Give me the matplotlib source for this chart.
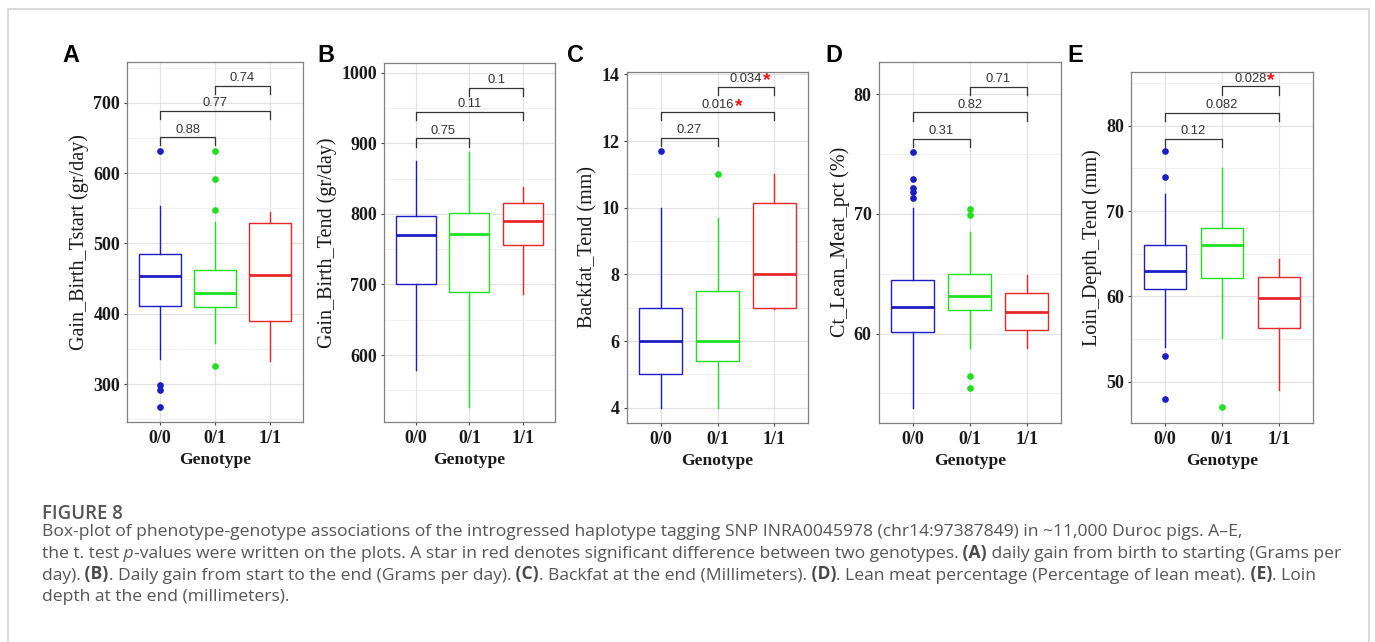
import matplotlib
matplotlib.use("Agg")
import matplotlib.pyplot as plt
from matplotlib.patches import Rectangle
from matplotlib.ticker import FixedLocator

W, H = 1375, 642

genotypes = ["0/0", "0/1", "1/1"]
pairs = [(1, 2), (1, 3), (2, 3)]

# A: Gain_Birth_Tstart
a_low = [336, 359, 333]
a_q1 = [411, 409, 389]
a_med = [453, 429, 455]
a_q3 = [485, 462, 529]
a_high = [553, 531, 544]
a_out = [[632, 299, 292, 268], [631, 592, 548, 326], []]
a_p = ["0.88", "0.77", "0.74"]
a_star = [False, False, False]
a_bracket = [651, 688, 724]

# B: Gain_Birth_Tend
b_low = [579, 527, 687]
b_q1 = [701, 689, 756]
b_med = [770, 771, 790]
b_q3 = [797, 801, 815]
b_high = [875, 888, 838]
b_out = [[], [], []]
b_p = ["0.75", "0.11", "0.1"]
b_star = [False, False, False]
b_bracket = [907, 945, 979]

# C: Backfat_Tend
c_low = [4.0, 4.0, 6.95]
c_q1 = [5.0, 5.4, 7.0]
c_med = [6.0, 6.0, 8.0]
c_q3 = [7.0, 7.5, 10.15]
c_high = [10.0, 9.7, 11.0]
c_out = [[11.7], [11.0], []]
c_p = ["0.27", "0.016", "0.034"]
c_star = [False, True, True]
c_bracket = [12.1, 12.86, 13.63]

# D: Ct_Lean_Meat_pct
d_low = [53.8, 58.8, 58.8]
d_q1 = [60.1, 62.0, 60.3]
d_med = [62.2, 63.15, 61.85]
d_q3 = [64.5, 65.0, 63.4]
d_high = [70.5, 68.5, 64.9]
d_out = [[75.2, 72.9, 72.2, 71.8, 71.3], [70.4, 69.9, 56.5, 55.5], []]
d_p = ["0.31", "0.82", "0.71"]
d_star = [False, False, False]
d_bracket = [76.3, 78.5, 80.6]

# E: Loin_Depth_Tend
e_low = [54.1, 55.1, 49.0]
e_q1 = [60.9, 62.1, 56.25]
e_med = [63.0, 66.0, 59.85]
e_q3 = [66.0, 68.0, 62.3]
e_high = [72.0, 75.0, 64.4]
e_out = [[77.0, 74.0, 53.0, 48.0], [47.0], []]
e_p = ["0.12", "0.082", "0.028"]
e_star = [False, False, True]
e_bracket = [78.5, 81.5, 84.6]

colors = ["#1c1cc4", "#1fe01f", "#e8262a"]
serif = "Liberation Serif"
sans = "Liberation Sans"


def panel(rect, letter, ylabel, ylim, major, minor,
          low, q1, med, q3, high, out, pvals, stars, brackets):
    l, r, t, b = rect
    ax = fig.add_axes([l / W, 1 - b / H, (r - l) / W, (b - t) / H])
    stats = []
    for i in range(3):
        stats.append(dict(med=med[i], q1=q1[i], q3=q3[i], whislo=low[i],
                          whishi=high[i], fliers=out[i]))
    art = ax.bxp(stats, positions=[1, 2, 3], widths=0.75, showcaps=False,
                 patch_artist=True, manage_ticks=False)
    for i, col in enumerate(colors):
        art["boxes"][i].set(facecolor="white", edgecolor=col, linewidth=1.0)
        art["medians"][i].set(color=col, linewidth=2.0)
        for w in art["whiskers"][2 * i:2 * i + 2]:
            w.set(color=col, linewidth=1.0)
        art["fliers"][i].set(marker="o", markerfacecolor=col, markeredgecolor=col,
                             markersize=3.8, linestyle="none")

    ax.set_xlim(0.4, 3.6)
    ax.set_ylim(*ylim)
    span = ylim[1] - ylim[0]
    drop = 0.023 * span
    for (i, j), h, p, s in zip(pairs, brackets, pvals, stars):
        ax.plot([i, i, j, j], [h - drop, h, h, h - drop], color="#333333", lw=0.9)
        lbl = ax.annotate(p, ((i + j) / 2, h), xytext=(0, 1.2), textcoords="offset points",
                          ha="center", va="bottom", fontsize=9.3, color="#333333",
                          family=sans)
        if s:
            ax.annotate("*", xy=(1, 1), xycoords=lbl, xytext=(0.6, 0.8),
                        textcoords="offset points", ha="left", va="top",
                        fontsize=14, fontweight="bold", color="#f01818", family=sans)

    ax.set_xticks([1, 2, 3])
    ax.set_xticklabels(genotypes)
    ax.yaxis.set_major_locator(FixedLocator(major))
    ax.yaxis.set_minor_locator(FixedLocator(minor))
    ax.grid(which="major", color="#e3e3e3", linewidth=0.9)
    ax.grid(which="minor", axis="y", color="#efefef", linewidth=0.6)
    ax.set_axisbelow(True)
    for sp in ax.spines.values():
        sp.set_color("#808080")
        sp.set_linewidth(0.9)
    ax.tick_params(which="major", length=2.4, width=0.8, color="#444444", pad=2.5)
    ax.tick_params(axis="x", which="major", pad=3.5)
    ax.tick_params(which="minor", length=0)
    for lab in ax.get_xticklabels() + ax.get_yticklabels():
        lab.set_family(serif)
        lab.set_fontweight("bold")
        lab.set_fontsize(13)
        lab.set_color("#1a1a1a")
    ax.set_xlabel("Genotype", family=serif, fontweight="bold", fontsize=12.6,
                  color="#1a1a1a", labelpad=4)
    ax.set_ylabel(ylabel, family=serif, fontsize=14.5, color="#1a1a1a", labelpad=3)
    fig.text(letter[1] / W, 1 - 62 / H, letter[0], family=sans, fontweight="bold",
             fontsize=16.8, color="black", ha="left", va="baseline")
    return ax


fig = plt.figure(figsize=(W / 100, H / 100), dpi=100)

panel((127, 303, 62, 421.7), ("A", 62), "Gain_Birth_Tstart (gr/day)", (246.4, 757.9),
      [300, 400, 500, 600, 700], [250, 350, 450, 550, 650, 750],
      a_low, a_q1, a_med, a_q3, a_high, a_out, a_p, a_star, a_bracket)
panel((384, 554.7, 63.3, 421.7), ("B", 317), "Gain_Birth_Tend (gr/day)", (505.5, 1013.3),
      [600, 700, 800, 900, 1000], [550, 650, 750, 850, 950],
      b_low, b_q1, b_med, b_q3, b_high, b_out, b_p, b_star, b_bracket)
panel((626.6, 808.4, 71.7, 422.7), ("C", 567), "Backfat_Tend (mm)", (3.55, 14.08),
      [4, 6, 8, 10, 12, 14], [5, 7, 9, 11, 13],
      c_low, c_q1, c_med, c_q3, c_high, c_out, c_p, c_star, c_bracket)
panel((878.5, 1060.9, 62, 422.7), ("D", 825), "Ct_Lean_Meat_pct (%)", (52.56, 82.7),
      [60, 70, 80], [55, 65, 75],
      d_low, d_q1, d_med, d_q3, d_high, d_out, d_p, d_star, d_bracket)
panel((1131, 1313, 71.7, 422.7), ("E", 1067), "Loin_Depth_Tend (mm)", (45.2, 86.33),
      [50, 60, 70, 80], [55, 65, 75, 85],
      e_low, e_q1, e_med, e_q3, e_high, e_out, e_p, e_star, e_bracket)

# outer frame of the figure box
fig.patches.append(Rectangle((8.3 / W, -0.05), (1369 - 8.3) / W, 1.05 - 9 / H,
                             transform=fig.transFigure, fill=False,
                             edgecolor="#d3d3d3", linewidth=1.2))

# caption
cap_font = "Open Sans"
cap_size = 12.6
cap_color = "#555555"
renderer = fig.canvas.get_renderer()


def runs(x, y, parts):
    for s, style in parts:
        kw = dict(family=cap_font, fontsize=cap_size, color=cap_color, va="baseline")
        if style == "b":
            kw.update(fontweight="bold", color="#4a4a4a")
        if style == "i":
            kw.update(fontstyle="italic")
        t = fig.text(x / W, 1 - y / H, s, **kw)
        x += t.get_window_extent(renderer).width


fig.text(41.7 / W, 1 - 519 / H, "FIGURE 8", family=cap_font, fontsize=13.4,
         fontweight="semibold", color="#555555", va="baseline")
runs(41.7, 536.5, [("Box-plot of phenotype-genotype associations of the introgressed haplotype "
                    "tagging SNP INRA0045978 (chr14:97387849) in ~11,000 Duroc pigs. A\u2013E,", "")])
runs(41.7, 558, [("the t. test", ""), (" p", "i"),
                 ("-values were written on the plots. A star in red denotes significant "
                  "difference between two genotypes.", ""),
                 (" (A)", "b"), (" daily gain from birth to starting (Grams per", "")])
runs(41.7, 579.5, [("day).", ""), (" (B)", "b"),
                   (". Daily gain from start to the end (Grams per day).", ""),
                   (" (C)", "b"), (". Backfat at the end (Millimeters).", ""),
                   (" (D)", "b"), (". Lean meat percentage (Percentage of lean meat).", ""),
                   (" (E)", "b"), (". Loin", "")])
runs(41.7, 601, [("depth at the end (millimeters).", "")])

fig.savefig("out.png", dpi=100)
